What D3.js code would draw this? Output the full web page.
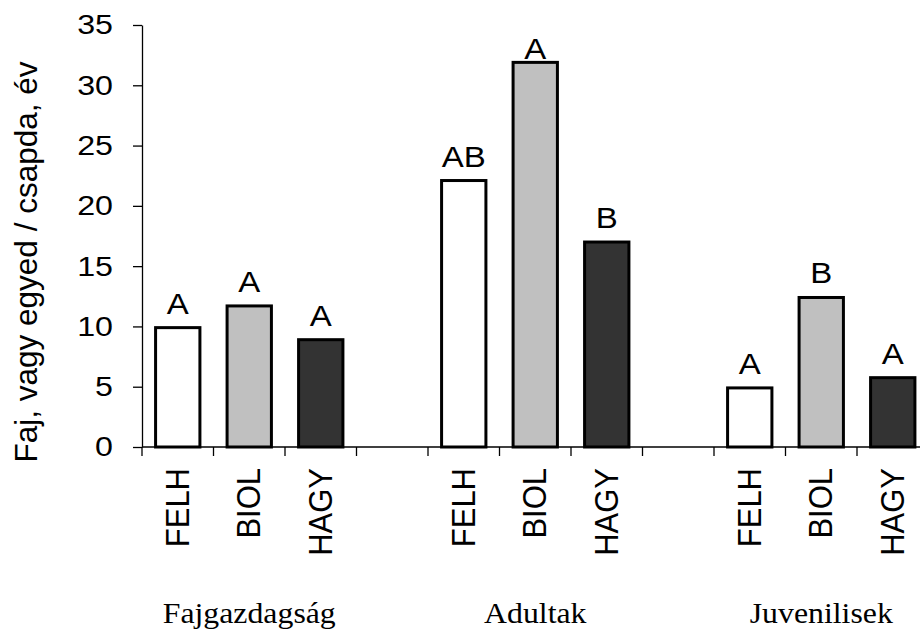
<!DOCTYPE html>
<html>
<head>
<meta charset="utf-8">
<script src="https://cdn.jsdelivr.net/npm/d3@7"></script>
<style>
  body { margin: 0; background: #fff; }
  svg { display: block; }
</style>
</head>
<body>
<script>
// data
const groups = ['Fajgazdagság', 'Adultak', 'Juvenilisek'];
const treatments = ['FELH', 'BIOL', 'HAGY'];
const fajgazdagsag = [9.9, 11.7, 8.9];
const adultak = [22.1, 31.9, 17.0];
const juvenilisek = [4.9, 12.4, 5.75];
const letters = [['A', 'A', 'A'], ['AB', 'A', 'B'], ['A', 'B', 'A']];
const yTicks = [0, 5, 10, 15, 20, 25, 30, 35];
const yTitle = 'Faj, vagy egyed / csapda, év';

const fills = {FELH: '#ffffff', BIOL: '#c0c0c0', HAGY: '#333333'};
const series = [fajgazdagsag, adultak, juvenilisek];
const sans = '"Liberation Sans", Arial, sans-serif';

// slots: 3 bars per group, an empty slot between groups
var slots = [];
var bars = [];
groups.forEach(function(g, gi) {
  if (gi > 0) slots.push('gap' + gi);
  treatments.forEach(function(t, ti) {
    var key = g + '|' + t;
    slots.push(key);
    bars.push({key: key, group: g, treatment: t, value: series[gi][ti], letter: letters[gi][ti]});
  });
});

const W = 920, H = 629;
const x0 = 142, y0 = 447, yTop = 25;
const step = 71.5;

var svg = d3.select('body')
  .append('svg')
  .attr('width', W)
  .attr('height', H);

var slot = d3.scaleBand()
  .domain(slots)
  .range([x0, x0 + step * slots.length])
  .padding(0);

var x = d3.scaleBand()
  .domain(slots)
  .range([x0, x0 + step * slots.length])
  .paddingInner(0.38)
  .paddingOuter(0.19);

var y = d3.scaleLinear()
  .domain([0, 35])
  .range([y0, yTop]);

// bars
svg.append('g')
  .selectAll('rect')
  .data(bars)
  .join('rect')
  .attr('x', d => x(d.key))
  .attr('y', d => y(d.value))
  .attr('width', x.bandwidth())
  .attr('height', d => y(0) - y(d.value))
  .attr('fill', d => fills[d.treatment])
  .attr('stroke', '#000')
  .attr('stroke-width', 3);

// significance letters
svg.append('g')
  .selectAll('text')
  .data(bars)
  .join('text')
  .attr('transform', d => 'translate(' + (x(d.key) + x.bandwidth() / 2) + ',' +
        Math.max(y(d.value) - 14, y(35) + 34) + ') scale(1.1,1)')
  .attr('text-anchor', 'middle')
  .style('font-family', sans)
  .style('font-size', '30px')
  .text(d => d.letter);

// y axis
var yAxis = svg.append('g')
  .attr('transform', 'translate(' + x0 + ',0)')
  .call(d3.axisLeft(y).tickValues(yTicks).tickSize(9).tickSizeOuter(0).tickPadding(20));
yAxis.select('.domain').attr('stroke-width', 1.3);
yAxis.selectAll('line').attr('stroke-width', 1.3);
yAxis.selectAll('text')
  .attr('x', -29 / 1.15)
  .attr('transform', 'scale(1.15,1)')
  .style('font-family', sans)
  .style('font-size', '28px')
  .attr('fill', '#000');

// x axis line and slot ticks
svg.append('line')
  .attr('x1', x0)
  .attr('x2', W)
  .attr('y1', y0)
  .attr('y2', y0)
  .attr('stroke', '#000')
  .attr('stroke-width', 1.3);

svg.append('g')
  .selectAll('line')
  .data(slots)
  .join('line')
  .attr('x1', d => slot(d))
  .attr('x2', d => slot(d))
  .attr('y1', y0)
  .attr('y2', y0 + 9)
  .attr('stroke', '#000')
  .attr('stroke-width', 1.3);

// treatment labels
svg.append('g')
  .selectAll('text')
  .data(bars)
  .join('text')
  .attr('transform', d => 'translate(' + (slot(d.key) + slot.bandwidth() / 2 + 11) + ',468) rotate(-90) scale(1,1.05)')
  .attr('text-anchor', 'end')
  .style('font-family', sans)
  .style('font-size', '31px')
  .text(d => d.treatment);

// group labels
svg.append('g')
  .selectAll('text')
  .data(groups)
  .join('text')
  .attr('transform', d => 'translate(' + (slot(d + '|BIOL') + slot.bandwidth() / 2) + ',623) scale(1.06,1)')
  .attr('text-anchor', 'middle')
  .style('font-family', '"Liberation Serif", "Times New Roman", serif')
  .style('font-size', '30px')
  .text(d => d);

// y title
svg.append('text')
  .attr('transform', 'translate(37,262) rotate(-90)')
  .attr('text-anchor', 'middle')
  .style('font-family', sans)
  .style('font-size', '31.5px')
  .text(yTitle);
</script>
</body>
</html>
